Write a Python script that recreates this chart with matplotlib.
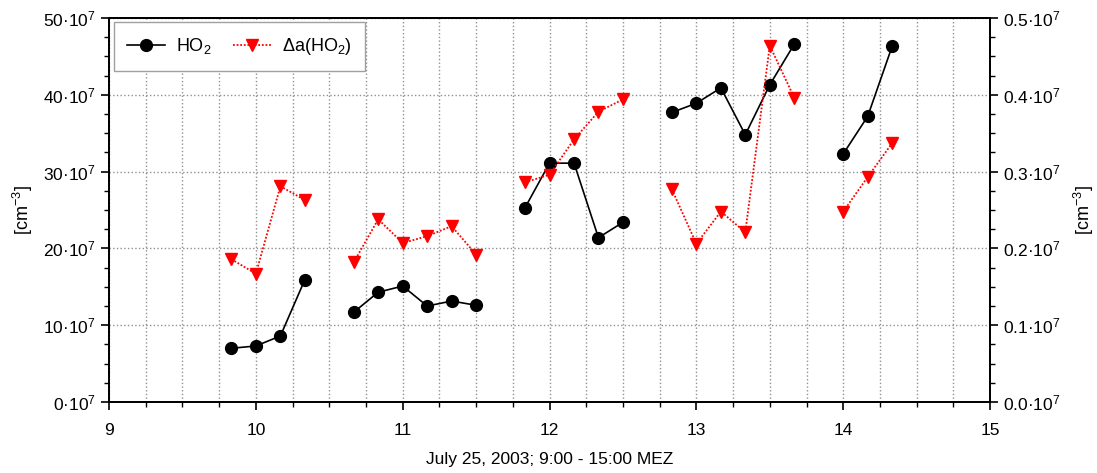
import matplotlib
matplotlib.use("Agg")
import matplotlib.pyplot as plt
from matplotlib.ticker import MultipleLocator, FuncFormatter
import numpy as np

plt.rcParams['font.family'] = ['Liberation Sans', 'DejaVu Sans']
plt.rcParams['mathtext.fontset'] = 'custom'
plt.rcParams['mathtext.rm'] = 'Liberation Sans'
plt.rcParams['mathtext.it'] = 'Liberation Sans:italic'

# time of day (hours), nan marks a gap between measurement blocks
hours = [9.833, 10.0, 10.167, 10.333, np.nan,
         10.667, 10.833, 11.0, 11.167, 11.333, 11.5, np.nan,
         11.833, 12.0, 12.167, 12.333, 12.5, np.nan,
         12.833, 13.0, 13.167, 13.333, 13.5, 13.667, np.nan,
         14.0, 14.167, 14.333]
# HO2 in 1e7 cm^-3
ho2 = [7.0, 7.3, 8.6, 15.9, np.nan,
       11.7, 14.3, 15.1, 12.5, 13.15, 12.6, np.nan,
       25.3, 31.1, 31.1, 21.4, 23.4, np.nan,
       37.7, 38.9, 40.9, 34.8, 41.3, 46.6, np.nan,
       32.3, 37.2, 46.3]
# uncertainty of HO2 in 1e7 cm^-3
dho2 = [0.186, 0.167, 0.281, 0.263, np.nan,
        0.182, 0.238, 0.207, 0.216, 0.229, 0.192, np.nan,
        0.286, 0.296, 0.342, 0.378, 0.394, np.nan,
        0.277, 0.206, 0.248, 0.221, 0.464, 0.396, np.nan,
        0.248, 0.293, 0.337]

fig = plt.figure(figsize=(10.97, 4.73), dpi=100)
ax = fig.add_axes([0.0994, 0.150, 0.8031, 0.812])
ax2 = ax.twinx()

l1, = ax.plot(hours, ho2, color='black', lw=1.2, marker='o', ms=8.5,
              label='HO$_2$', zorder=3)
l2, = ax2.plot(hours, dho2, color='red', lw=1.3, ls=(0, (1, 1)), marker='v', ms=8.5,
               label=r'$\Delta$a(HO$_2$)', zorder=3)

ax.set_xlim(9, 15)
ax.set_ylim(0, 50)
ax2.set_ylim(0, 0.5)

ax.xaxis.set_major_locator(MultipleLocator(1))
ax.xaxis.set_minor_locator(MultipleLocator(0.25))
ax.yaxis.set_major_locator(MultipleLocator(10))
ax.yaxis.set_minor_locator(MultipleLocator(2.5))
ax2.yaxis.set_major_locator(MultipleLocator(0.1))
ax2.yaxis.set_minor_locator(MultipleLocator(0.025))

ax.yaxis.set_major_formatter(FuncFormatter(lambda v, p: "%d·10$^{7}$" % round(v)))
ax2.yaxis.set_major_formatter(FuncFormatter(lambda v, p: "%.1f·10$^{7}$" % v))

ax.grid(True, which='both', axis='x', ls=':', color='#909090', lw=1)
ax.grid(True, which='major', axis='y', ls=':', color='#909090', lw=1)

for a in (ax, ax2):
    a.tick_params(which='major', direction='out', length=6, width=1.2, labelsize=12.5)
    a.tick_params(which='minor', direction='out', length=3.5, width=1.0)
    for s in a.spines.values():
        s.set_linewidth(1.3)
ax.tick_params(axis='x', pad=9)
ax.tick_params(top=False, which='both')

ax.set_xlabel("July 25, 2003; 9:00 - 15:00 MEZ", fontsize=12.5, labelpad=10)
ax.set_ylabel("[cm$^{-3}$]", fontsize=13, labelpad=6)
ax2.set_ylabel("[cm$^{-3}$]", fontsize=13, labelpad=8, rotation=90)

leg = ax.legend(handles=[l1, l2], loc='upper left', ncol=2, fontsize=13,
                fancybox=False, edgecolor='#a0a0a0', framealpha=1,
                borderaxespad=0.25, borderpad=0.75, handlelength=2.1,
                handletextpad=0.6, columnspacing=1.2,
                bbox_to_anchor=(0.0, 1.0))
leg.get_frame().set_linewidth(1.0)
leg.set_zorder(5)

fig.savefig("out.png", dpi=100)
